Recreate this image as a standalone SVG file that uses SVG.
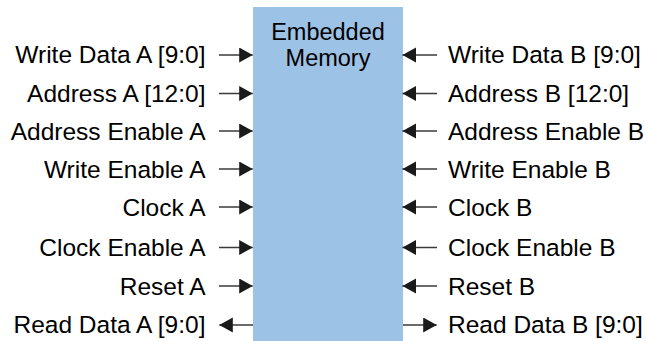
<svg xmlns="http://www.w3.org/2000/svg" width="646" height="341" viewBox="0 0 646 341">
<style>
text{font-family:"Liberation Sans",Arial,sans-serif;font-size:24.5px;fill:#000}
.l{text-anchor:end}
.r{text-anchor:start}
.c{text-anchor:middle;font-size:23.5px}
.w{stroke:#3a3a3a;stroke-width:1.6;fill:none}
</style>
<defs>
<marker id="ah" markerUnits="userSpaceOnUse" markerWidth="14" markerHeight="16" refX="13.5" refY="7.5" orient="auto">
<path d="M0,0 L13.5,7.5 L0,15 Z" fill="#1a1a1a"/>
</marker>
</defs>
<rect width="646" height="341" fill="#fff"/>
<g id="memory">
<rect x="253" y="7" width="150" height="336" fill="#9cc2e6"/>
<text class="c" x="328" y="39.5">Embedded</text>
<text class="c" x="328" y="65.8">Memory</text>
</g>
<g id="connectors">
<line class="w" x1="219" y1="55" x2="252.7" y2="55" marker-end="url(#ah)"/>
<line class="w" x1="219" y1="93.5" x2="252.7" y2="93.5" marker-end="url(#ah)"/>
<line class="w" x1="219" y1="131" x2="252.7" y2="131" marker-end="url(#ah)"/>
<line class="w" x1="219" y1="169" x2="252.7" y2="169" marker-end="url(#ah)"/>
<line class="w" x1="219" y1="207" x2="252.7" y2="207" marker-end="url(#ah)"/>
<line class="w" x1="219" y1="247.5" x2="252.7" y2="247.5" marker-end="url(#ah)"/>
<line class="w" x1="219" y1="286" x2="252.7" y2="286" marker-end="url(#ah)"/>
<line class="w" x1="253" y1="325" x2="219.3" y2="325" marker-end="url(#ah)"/>
<line class="w" x1="437" y1="55" x2="402.5" y2="55" marker-end="url(#ah)"/>
<line class="w" x1="437" y1="93.5" x2="402.5" y2="93.5" marker-end="url(#ah)"/>
<line class="w" x1="437" y1="131" x2="402.5" y2="131" marker-end="url(#ah)"/>
<line class="w" x1="437" y1="169" x2="402.5" y2="169" marker-end="url(#ah)"/>
<line class="w" x1="437" y1="207" x2="402.5" y2="207" marker-end="url(#ah)"/>
<line class="w" x1="437" y1="247.5" x2="402.5" y2="247.5" marker-end="url(#ah)"/>
<line class="w" x1="437" y1="286" x2="402.5" y2="286" marker-end="url(#ah)"/>
<line class="w" x1="403" y1="325" x2="436.7" y2="325" marker-end="url(#ah)"/>
</g>
<g id="labels-a">
<text class="l" x="205.5" y="63">Write Data A [9:0]</text>
<text class="l" x="205.5" y="101.5">Address A [12:0]</text>
<text class="l" x="205.5" y="139.5">Address Enable A</text>
<text class="l" x="205.5" y="178">Write Enable A</text>
<text class="l" x="205.5" y="216">Clock A</text>
<text class="l" x="205.5" y="256">Clock Enable A</text>
<text class="l" x="205.5" y="294.5">Reset A</text>
<text class="l" x="205.5" y="333">Read Data A [9:0]</text>
</g>
<g id="labels-b">
<text class="r" x="448" y="63">Write Data B [9:0]</text>
<text class="r" x="448" y="101.5">Address B [12:0]</text>
<text class="r" x="448" y="139.5">Address Enable B</text>
<text class="r" x="448" y="178">Write Enable B</text>
<text class="r" x="448" y="216">Clock B</text>
<text class="r" x="448" y="256">Clock Enable B</text>
<text class="r" x="448" y="294.5">Reset B</text>
<text class="r" x="448" y="333">Read Data B [9:0]</text>
</g>
</svg>
